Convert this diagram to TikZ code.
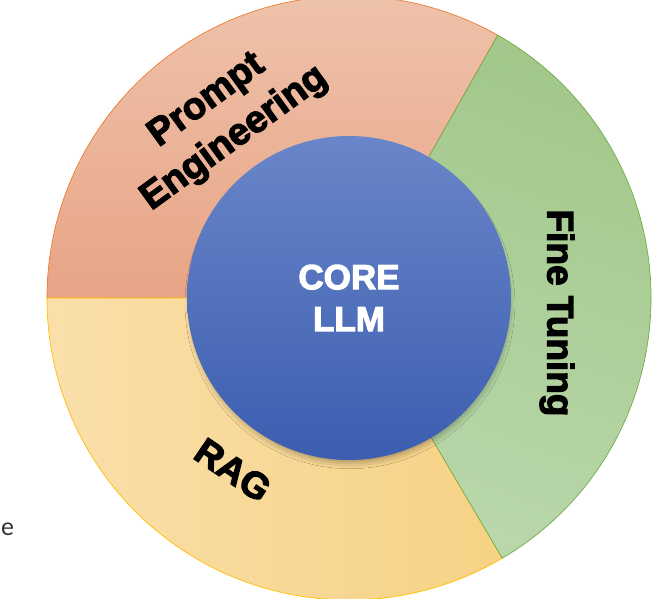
\documentclass[tikz,border=0pt]{standalone}
\usepackage{fontspec}
\setmainfont{Liberation Sans}
\newfontfamily\heavyfont{Liberation Sans}[FakeBold=3]
\newfontfamily\calfont{Carlito}
\usetikzlibrary{shadows.blur}
\definecolor{promptA}{HTML}{E8A486}
\definecolor{promptB}{HTML}{EEC2AA}
\definecolor{promptLine}{HTML}{ED7D31}
\definecolor{fineA}{HTML}{A2C789}
\definecolor{fineB}{HTML}{B9D7AB}
\definecolor{fineLine}{HTML}{70AD47}
\definecolor{ragA}{HTML}{FADFAB}
\definecolor{ragB}{HTML}{F6D284}
\definecolor{ragLine}{HTML}{FFC000}
\definecolor{coreTop}{HTML}{6A86C9}
\definecolor{coreBot}{HTML}{3C5EB0}
\tikzset{
  seglabel/.style={font=\heavyfont\bfseries\fontsize{37}{46}\selectfont, text=black, align=center, inner sep=0pt},
  corelabel/.style={circle, minimum size=324pt, inner sep=0pt, top color=coreTop, bottom color=coreBot, draw=none,
    text=white, align=center, font=\heavyfont\bfseries\fontsize{35}{42}\selectfont,
    blur shadow={shadow xshift=1pt, shadow yshift=-6pt, shadow blur radius=8pt, shadow opacity=45, shadow scale=0.97}},
}
\begin{document}
\begin{tikzpicture}[x=1pt,y=1pt]
\useasboundingbox (0,0) rectangle (662,598);
\coordinate (C) at (349,300);
% Prompt Engineering slice
\shadedraw[draw=promptLine, line width=0.7pt, top color=promptB, bottom color=promptA]
  (C) -- ++(180:302) arc (180:60.5:302) -- cycle;
% RAG slice
\shadedraw[draw=ragLine, line width=0.7pt, left color=ragA, right color=ragB]
  (C) -- ++(180:302) arc (180:300.5:302) -- cycle;
% Fine Tuning slice
\shadedraw[draw=fineLine, line width=0.7pt, left color=fineA, right color=fineB, shading angle=-20]
  (C) -- ++(-59.5:302) arc (-59.5:60.5:302) -- cycle;
% core
\node[corelabel] (core) at (C) {CORE\\LLM};
% labels
\node[seglabel, rotate=36, font=\heavyfont\bfseries\fontsize{38}{47}\selectfont] (prompt) at (221,478) {Prompt\\Engineering};
\node[seglabel, rotate=-90] (fine) at (557,285) {Fine Tuning};
\node[seglabel, rotate=-34] (rag) at (233,128) {RAG};
\node[anchor=base west, inner sep=0pt, font=\calfont\fontsize{26}{30}\selectfont, text=black!80] (e) at (1,63) {e};
\end{tikzpicture}
\end{document}
